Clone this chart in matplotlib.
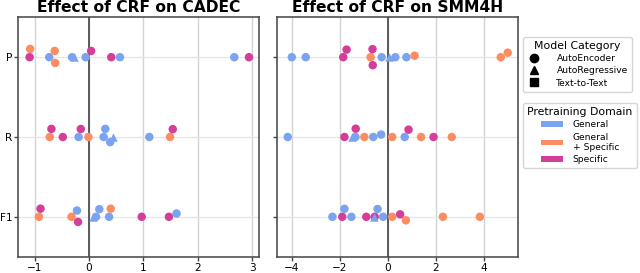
import numpy as np
import matplotlib
matplotlib.use("Agg")
import matplotlib.pyplot as plt
from matplotlib.lines import Line2D
from matplotlib.patches import Patch

metrics = ["P", "R", "F1"]

# CADEC
cadec_P_vals = [-1.09, -1.08, -0.73, -0.63, -0.62, -0.31, -0.27, -0.06, 0.04, 0.41, 0.57, 2.67, 2.94]
cadec_P_dom  = ["S", "GS", "G", "GS", "GS", "G", "G", "G", "S", "S", "G", "G", "S"]
cadec_P_mod  = ["AE", "AE", "AE", "AE", "AE", "AE", "AR", "AE", "AE", "AE", "AE", "AE", "AE"]

cadec_R_vals = [-0.72, -0.69, -0.48, -0.19, -0.15, -0.01, 0.27, 0.30, 0.39, 0.45, 1.11, 1.49, 1.54]
cadec_R_dom  = ["GS", "S", "S", "G", "S", "GS", "G", "G", "G", "G", "G", "GS", "S"]
cadec_R_mod  = ["AE", "AE", "AE", "AE", "AE", "AE", "AE", "AE", "AE", "AR", "AE", "AE", "AE"]

cadec_F_vals = [-0.92, -0.89, -0.32, -0.22, -0.20, 0.08, 0.13, 0.19, 0.37, 0.40, 0.97, 1.47, 1.61]
cadec_F_dom  = ["GS", "S", "GS", "G", "S", "G", "G", "G", "G", "GS", "S", "S", "G"]
cadec_F_mod  = ["AE", "AE", "AE", "AE", "AE", "AR", "AE", "AE", "AE", "AE", "AE", "AE", "AE"]

# SMM4H
smm_P_vals = [-3.99, -3.41, -1.85, -1.71, -0.71, -0.63, -0.62, -0.25, 0.04, 0.32, 0.78, 1.12, 4.71, 5.00]
smm_P_dom  = ["G", "G", "S", "S", "GS", "S", "S", "G", "G", "G", "G", "GS", "GS", "GS"]
smm_P_mod  = ["AE", "AE", "AE", "AE", "AE", "AE", "AE", "AE", "AR", "AE", "AE", "AE", "AE", "AE"]

smm_R_vals = [-4.16, -1.80, -1.47, -1.34, -1.33, -0.97, -0.60, -0.27, 0.19, 0.71, 0.87, 1.39, 1.91, 2.67]
smm_R_dom  = ["G", "S", "G", "G", "S", "GS", "G", "G", "GS", "G", "S", "GS", "S", "GS"]
smm_R_mod  = ["AE", "AE", "AR", "AE", "AE", "AE", "AE", "AE", "AE", "AE", "AE", "AE", "AE", "AE"]

smm_F_vals = [-2.30, -1.89, -1.80, -1.51, -0.89, -0.58, -0.54, -0.42, -0.19, 0.19, 0.52, 0.76, 2.30, 3.84]
smm_F_dom  = ["G", "S", "G", "G", "S", "G", "S", "G", "G", "GS", "S", "GS", "GS", "GS"]
smm_F_mod  = ["AE", "AE", "AE", "AE", "AE", "AR", "AE", "AE", "AE", "AE", "AE", "AE", "AE", "AE"]

domain_colors = {"G": "#7aa3f0", "GS": "#fc8d62", "S": "#d43d9a"}
domain_labels = {"G": "General", "GS": "General\n+ Specific", "S": "Specific"}
model_markers = {"AE": "o", "AR": "^", "T2T": "s"}
model_labels = {"AE": "AutoEncoder", "AR": "AutoRegressive", "T2T": "Text-to-Text"}

panels = [
    ("Effect of CRF on CADEC", (-1.3, 3.13), [-1, 0, 1, 2, 3],
     [(cadec_P_vals, cadec_P_dom, cadec_P_mod),
      (cadec_R_vals, cadec_R_dom, cadec_R_mod),
      (cadec_F_vals, cadec_F_dom, cadec_F_mod)]),
    ("Effect of CRF on SMM4H", (-4.62, 5.44), [-4, -2, 0, 2, 4],
     [(smm_P_vals, smm_P_dom, smm_P_mod),
      (smm_R_vals, smm_R_dom, smm_R_mod),
      (smm_F_vals, smm_F_dom, smm_F_mod)]),
]

W, H = 640, 273
fig = plt.figure(figsize=(W / 100, H / 100), dpi=100)
ax_pos = [[18.2 / W, (H - 256.7) / H, 241.1 / W, 239.4 / H],
          [276.7 / W, (H - 256.7) / H, 241.6 / W, 239.4 / H]]

MS_PT = 6.1           # marker diameter in points
D_PX = 8.3            # swarm spacing in pixels


def beeswarm(xpx, d):
    """Return vertical pixel offsets (positive = up) for a 1-D swarm."""
    order = np.argsort(xpx, kind="stable")
    placed = []
    offs = np.zeros(len(xpx))
    for i in order:
        x = xpx[i]
        neigh = [(xj, yj) for xj, yj in placed if abs(xj - x) < d]
        cands = [0.0]
        for xj, yj in neigh:
            dy = np.sqrt(max(d ** 2 - (xj - x) ** 2, 0))
            cands += [yj + dy, yj - dy]
        cands = sorted(cands, key=lambda c: (round(abs(c), 6), -c))
        for c in cands:
            if all((xj - x) ** 2 + (yj - c) ** 2 >= d ** 2 - 1e-6 for xj, yj in neigh):
                offs[i] = c
                placed.append((x, c))
                break
    return offs


for k, (title, xlim, xticks, rows) in enumerate(panels):
    ax = fig.add_axes(ax_pos[k])
    ax.set_xlim(*xlim)
    ax.set_ylim(2.5, -0.5)
    ax.set_xticks(xticks)
    ax.set_yticks(range(len(metrics)))
    ax.set_yticklabels(metrics if k == 0 else [])
    ax.set_axisbelow(True)
    ax.grid(True, axis="x", color="#d4d4d4", lw=1.0)
    ax.grid(True, axis="y", color="#e6e6e6", lw=0.9)
    ax.axvline(0, color="#5a5a5a", lw=1.4, zorder=1.5)
    for s in ax.spines.values():
        s.set_color("#444444")
        s.set_linewidth(1.1)
    ax.tick_params(axis="both", labelsize=7.6, color="#444444", length=3, width=1, pad=1.2)
    ax.set_title(title, fontsize=11.2, fontweight="bold", pad=4)

    bb = ax.get_window_extent()
    px_x = bb.width / (xlim[1] - xlim[0])
    px_y = bb.height / 3.0

    for r, (vals, doms, mods) in enumerate(rows):
        vals = np.asarray(vals, float)
        doms = np.asarray(doms)
        mods = np.asarray(mods)
        for m in ["AE", "AR", "T2T"]:
            sel = mods == m
            if not sel.any():
                continue
            xv = vals[sel]
            offs = beeswarm(xv * px_x, D_PX)
            yv = r - offs / px_y
            cols = [domain_colors[d] for d in doms[sel]]
            ax.scatter(xv, yv, s=MS_PT ** 2, c=cols, marker=model_markers[m],
                       linewidths=0, zorder=3, clip_on=False)

    if k == 1:
        h1 = [Line2D([], [], marker=model_markers[m], color="black", ls="none", markersize=6)
              for m in ["AE", "AR", "T2T"]]
        leg1 = ax.legend(h1, [model_labels[m] for m in ["AE", "AR", "T2T"]],
                         title="Model Category", loc="upper left",
                         bbox_to_anchor=(1.0195, 0.918), borderaxespad=0,
                         fontsize=6.6, title_fontsize=7.8,
                         frameon=True, handlelength=1.6, handletextpad=1.6,
                         labelspacing=0.35, borderpad=0.45, edgecolor="#cccccc")
        ax.add_artist(leg1)
        h2 = [Patch(facecolor=domain_colors[d], edgecolor="none") for d in ["G", "GS", "S"]]
        ax.legend(h2, [domain_labels[d] for d in ["G", "GS", "S"]],
                  title="Pretraining Domain", loc="upper left",
                  bbox_to_anchor=(1.0195, 0.642), borderaxespad=0,
                  fontsize=6.6, title_fontsize=7.8,
                  frameon=True, handlelength=2.4, handleheight=0.5, handletextpad=1.1,
                  labelspacing=0.35, borderpad=0.45, edgecolor="#cccccc")

fig.savefig("out.png", dpi=100)
